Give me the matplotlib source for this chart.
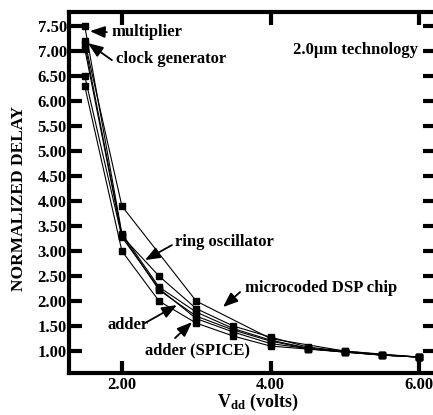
import matplotlib.pyplot as plt

plt.rcParams['font.family'] = ['Liberation Serif', 'DejaVu Serif']
plt.rcParams['font.weight'] = 'bold'
plt.rcParams['mathtext.fontset'] = 'custom'
plt.rcParams['mathtext.rm'] = 'Liberation Serif:bold'
plt.rcParams['mathtext.bf'] = 'Liberation Serif:bold'
plt.rcParams['mathtext.it'] = 'Liberation Serif:bold'

# supply voltage (V) and normalized delay per circuit
vdd = [1.5, 2.0, 2.5, 3.0, 3.5, 4.0, 4.5, 5.0, 5.5, 6.0]
multiplier = [7.50, 3.35, 2.28, 1.78, 1.45, 1.22, 1.06, 0.99, 0.92, 0.88]
clock_gen = [7.15, 3.32, 2.22, 1.70, 1.42, 1.20, 1.05, 0.98, 0.92, 0.88]
ring_osc = [7.05, 3.30, 2.50, 1.85, 1.50, 1.28, 1.08, 1.00, 0.93, 0.88]
adder = [6.50, 3.28, 2.25, 1.65, 1.38, 1.15, 1.05, 0.98, 0.92, 0.88]
adder_spice = [6.30, 3.00, 2.00, 1.56, 1.30, 1.10, 1.04, 0.98, 0.92, 0.88]
vdd_dsp = [1.5, 2.0, 3.0, 4.0, 5.0, 6.0]
dsp_chip = [7.20, 3.90, 2.00, 1.25, 1.00, 0.88]

yticks = [1.0, 1.5, 2.0, 2.5, 3.0, 3.5, 4.0, 4.5, 5.0, 5.5, 6.0, 6.5, 7.0, 7.5]
xticks = [2.0, 4.0, 6.0]

fig = plt.figure(figsize=(4.33, 4.15), dpi=100)
ax = fig.add_axes([0.159, 0.101, 0.846, 0.871])

for ys in [multiplier, clock_gen, ring_osc, adder, adder_spice]:
    ax.plot(vdd, ys, color='black', lw=0.8, marker='s', ms=4.5)
ax.plot(vdd_dsp, dsp_chip, color='black', lw=0.8, marker='s', ms=4.5)

ax.set_xlim(1.286, 6.215)
ax.set_ylim(0.56, 7.79)
ax.set_xticks(xticks)
ax.set_xticklabels(['%.2f' % v for v in xticks])
ax.set_yticks(yticks)
ax.set_yticklabels(['%.2f' % v for v in yticks])
ax.tick_params(direction='in', length=9, width=3, labelsize=12,
               top=True, right=True)
ax.tick_params(axis='y', pad=1.5)
ax.tick_params(axis='x', pad=3)
for s in ax.spines.values():
    s.set_linewidth(3)

fig.text(19 / 433, 1 - 198 / 415, 'NORMALIZED DELAY', fontsize=12.5,
         fontweight='bold', rotation=90, ha='center', va='center')
fig.text(258 / 433, 1 - 407 / 415, r'V$_{\rm dd}$ (volts)', fontsize=13,
         fontweight='bold', ha='center', va='baseline')

arrow = dict(arrowstyle='-|>,head_length=0.9,head_width=0.35', color='black',
             lw=1.3, shrinkA=0, shrinkB=0)

def label(txt, tip, tail, pos, ha='left'):
    ax.annotate('', xy=tip, xytext=tail, arrowprops=arrow)
    ax.text(pos[0], pos[1], txt, fontsize=12, fontweight='bold',
            ha=ha, va='center')

label('multiplier', (1.569, 7.40), (1.798, 7.38), (1.865, 7.38))
label('clock generator', (1.542, 7.16), (1.865, 6.82), (1.919, 6.84))
label('ring oscillator', (2.31, 2.82), (2.673, 3.12), (2.714, 3.18))
label('microcoded DSP chip', (3.36, 1.88), (3.59, 2.18), (3.656, 2.26))
label('adder', (2.74, 1.92), (2.31, 1.56), (1.81, 1.52))
label('adder (SPICE)', (2.943, 1.58), (2.714, 1.26), (2.31, 1.02))

ax.text(5.99, 7.02, '2.0\u03bcm technology', fontsize=12, fontweight='bold',
        ha='right', va='center')

fig.savefig('out.png', dpi=100)
